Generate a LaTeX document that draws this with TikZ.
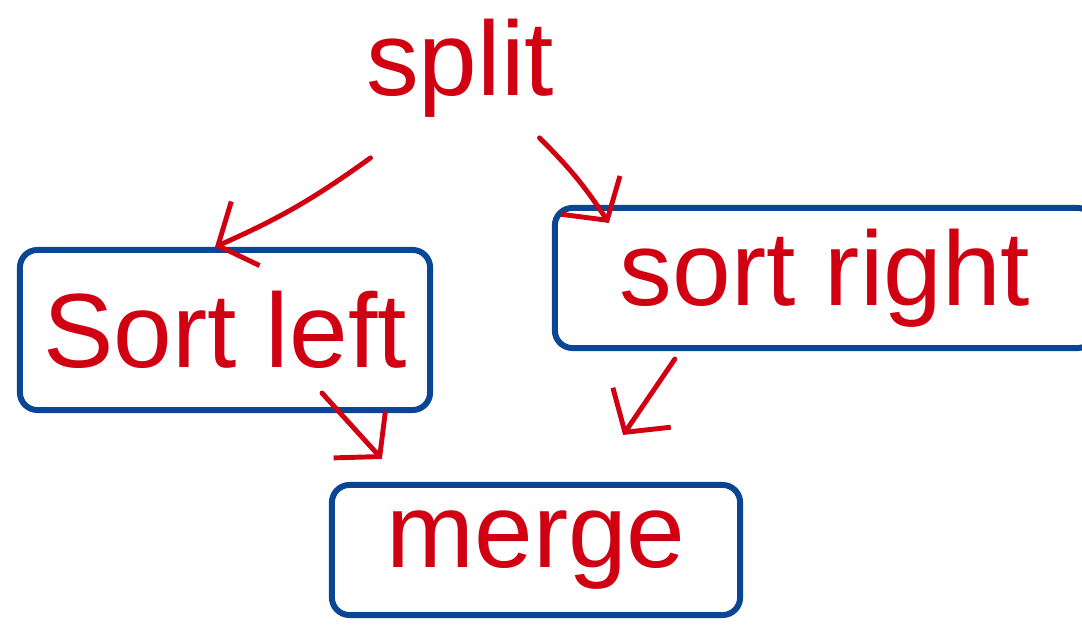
\documentclass[tikz,border=0pt]{standalone}
\usepackage{fontspec}
\setmainfont{Liberation Sans}
\usetikzlibrary{arrows.meta}
\definecolor{inkred}{RGB}{208,0,18}
\definecolor{inkblue}{RGB}{10,70,148}

\tikzset{
  box/.style={draw=inkblue, line width=1.7pt, rounded corners=5pt, text=inkred, inner sep=0pt},
  arr/.style={draw=inkred, line width=1.4pt, line cap=round, -{Straight Barb[length=3mm,width=7mm]}}
}

\begin{document}
\begin{tikzpicture}[x=0.01cm, y=-0.01cm, font=\fontsize{30}{34}\selectfont]
  \clip (0,0) rectangle (1082,628);
  \node[text=inkred, inner sep=0pt] (split) at (460,68) {split};
  \node[box, minimum width=41mm, minimum height=16mm] (sortleft) at (225,330) {Sort left};
  \node[box, minimum width=54mm, minimum height=14mm] (sortright) at (825,278) {sort right};
  \node[box, minimum width=40.8mm, minimum height=13mm] (merge) at (536,550) {merge};

  \draw[arr] ([shift={(5,40)}]split.south west) to[bend left=6] ([shift={(-10,0)}]sortleft.north);
  \draw[arr] ([shift={(-15,20)}]split.south east) to[bend left=6] ([shift={(57,18)}]sortright.north west);
  \draw[arr] ([shift={(97,-20)}]sortleft.south) -- ([shift={(53,-23)}]merge.north west);
  \draw[arr] ([shift={(123,8)}]sortright.south west) -- ([shift={(-120,-47)}]merge.north east);
\end{tikzpicture}
\end{document}
